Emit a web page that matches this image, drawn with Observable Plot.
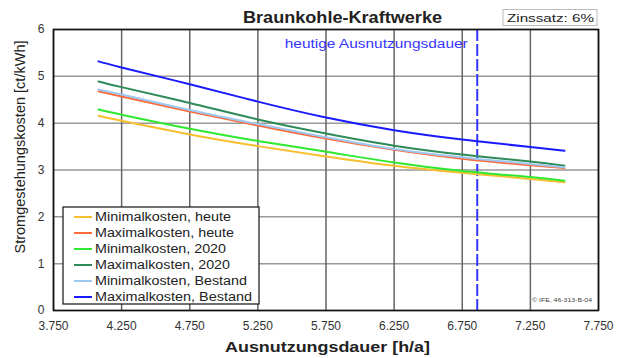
<!DOCTYPE html>
<html>
<head>
<meta charset="utf-8">
<script src="https://cdn.jsdelivr.net/npm/d3@7"></script>
<script src="https://cdn.jsdelivr.net/npm/@observablehq/plot@0.6"></script>
<style>
  html, body { margin: 0; padding: 0; background: #fff; }
  #chart { width: 617px; height: 358px; }
</style>
</head>
<body>
<div id="chart"></div>
<script>
// ---- data ----
const xTicks = [3750, 4250, 4750, 5250, 5750, 6250, 6750, 7250, 7750];
const yTicks = [0, 1, 2, 3, 4, 5, 6];
const xPoints = [4080, 4250, 4750, 5250, 5750, 6250, 6750, 7250, 7500];

const seriesNames = [
  "Minimalkosten, heute",
  "Maximalkosten, heute",
  "Minimalkosten, 2020",
  "Maximalkosten, 2020",
  "Minimalkosten, Bestand",
  "Maximalkosten, Bestand"
];
const minHeute    = [4.16, 4.05, 3.76, 3.51, 3.29, 3.09, 2.94, 2.81, 2.74];
const maxHeute    = [4.68, 4.57, 4.25, 3.95, 3.67, 3.43, 3.24, 3.10, 3.04];
const min2020     = [4.29, 4.18, 3.88, 3.62, 3.39, 3.16, 2.98, 2.85, 2.77];
const max2020     = [4.89, 4.77, 4.43, 4.08, 3.78, 3.52, 3.33, 3.18, 3.09];
const minBestand  = [4.72, 4.61, 4.28, 3.98, 3.70, 3.45, 3.27, 3.13, 3.06];
const maxBestand  = [5.32, 5.19, 4.83, 4.46, 4.12, 3.85, 3.65, 3.49, 3.41];
const heutigeAusnutzung = [6860];

const titleText = "Braunkohle-Kraftwerke";
const zinsText = "Zinssatz: 6%";
const annotText = "heutige Ausnutzungsdauer";
const xLabel = "Ausnutzungsdauer [h/a]";
const yLabel = "Stromgestehungskosten [ct/kWh]";
const creditText = "\u00A9 IFE, 46-313-B-04";

// ---- build table ----
const allSeries = [minHeute, maxHeute, min2020, max2020, minBestand, maxBestand];
const rows = [];
allSeries.forEach((vals, i) => {
  vals.forEach((v, j) => rows.push({x: xPoints[j], value: v, series: seriesNames[i]}));
});

const colorRange = ["#f6bf2e", "#ff6a3a", "#2fe82f", "#2e8b57", "#9cc8f2", "#1a1aff"];
const fmt = d => d3.format(",")(d).replace(/,/g, ".");

const chart = Plot.plot({
  width: 617,
  height: 358,
  marginLeft: 53,
  marginRight: 19,
  marginTop: 29,
  marginBottom: 48,
  style: {fontFamily: "'Liberation Sans', Arial, sans-serif", fontSize: "12px", color: "#333", background: "#fff"},
  x: {domain: [3750, 7750]},
  y: {domain: [0, 6]},
  color: {domain: seriesNames, range: colorRange},
  marks: [
    Plot.ruleY(yTicks, {stroke: "#999", strokeWidth: 1.5}),
    Plot.ruleX(xTicks, {stroke: "#666", strokeWidth: 1.5}),
    Plot.ruleX(heutigeAusnutzung, {stroke: "#3535ff", strokeWidth: 2, strokeDasharray: "12,3"}),
    Plot.line(rows, {x: "x", y: "value", z: "series", stroke: "series", strokeWidth: 2, curve: "natural"}),
    Plot.frame({stroke: "#111", strokeWidth: 1.6}),
    Plot.axisX({ticks: xTicks, tickSize: 0, tickPadding: 11, tickFormat: fmt, label: null}),
    Plot.axisY({ticks: yTicks, tickSize: 0, tickPadding: 9, tickFormat: d => String(d), label: null})
  ]
});

document.getElementById("chart").appendChild(chart);

// ---- annotations, legend and titles ----
const svg = d3.select(chart);
const xs = chart.scale("x");
const font = "'Liberation Sans', Arial, sans-serif";

function addText(parent, t, opts) {
  const el = parent.append("text")
    .attr("x", opts.x).attr("y", opts.y)
    .attr("font-family", font)
    .attr("font-size", opts.size)
    .attr("font-weight", opts.weight || "normal")
    .attr("fill", opts.fill || "#222")
    .attr("text-anchor", opts.anchor || "start")
    .text(t);
  if (opts.len) el.attr("textLength", opts.len).attr("lengthAdjust", "spacingAndGlyphs");
  if (opts.transform) el.attr("transform", opts.transform);
  return el;
}

// title
addText(svg, titleText, {x: 243, y: 23, size: 16, weight: "bold", len: 199});

// interest rate box
svg.append("rect").attr("x", 503).attr("y", 9.5).attr("width", 94).attr("height", 16)
  .attr("fill", "#fff").attr("stroke", "#bbb").attr("stroke-width", 1);
addText(svg, zinsText, {x: 507, y: 21.5, size: 11, len: 87});

// annotation
const xh = xs.apply(heutigeAusnutzung[0]);
addText(svg, annotText, {x: xh - 9, y: 48, size: 12, fill: "#3535ff", anchor: "end", len: 183});

// axis labels
addText(svg, xLabel, {x: 225, y: 352, size: 15, weight: "bold", len: 205});
addText(svg, yLabel, {x: 0, y: 0, size: 14, anchor: "middle", len: 213, transform: "translate(25,147) rotate(-90)"});

// credit
addText(svg, creditText, {x: 532, y: 302, size: 5, len: 60, fill: "#444"});

// legend
const lg = svg.append("g");
lg.append("rect").attr("x", 63).attr("y", 207).attr("width", 196).attr("height", 97)
  .attr("fill", "#fff").attr("stroke", "#111").attr("stroke-width", 1.2);
const legendLens = [136, 139, 131, 135, 152, 157];
seriesNames.forEach((name, i) => {
  const yy = 217 + i * 16;
  lg.append("line").attr("x1", 74).attr("x2", 92).attr("y1", yy).attr("y2", yy)
    .attr("stroke", colorRange[i]).attr("stroke-width", 2);
  addText(lg, name, {x: 95, y: yy + 4.2, size: 12, len: legendLens[i]});
});
</script>
</body>
</html>
